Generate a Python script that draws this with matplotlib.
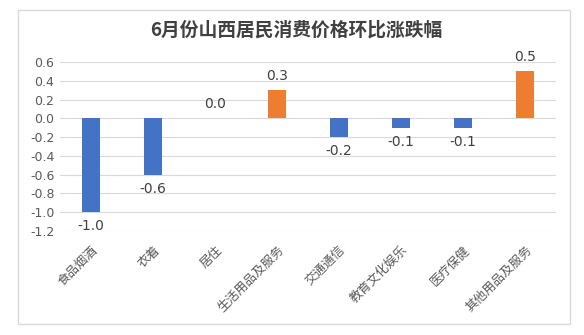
import matplotlib.pyplot as plt
from matplotlib.patches import Rectangle

plt.rcParams['font.family'] = ['Noto Sans CJK SC', 'DejaVu Sans']

categories = ['食品烟酒', '衣着', '居住', '生活用品及服务', '交通通信',
              '教育文化娱乐', '医疗保健', '其他用品及服务']
values = [-1.0, -0.6, 0.0, 0.3, -0.2, -0.1, -0.1, 0.5]
yticks = [0.6, 0.4, 0.2, 0.0, -0.2, -0.4, -0.6, -0.8, -1.0, -1.2]

blue = '#4472C4'
orange = '#ED7D31'

fig = plt.figure(figsize=(5.84, 3.35), dpi=100)
fig.patches.append(Rectangle((18 / 584, 1 - 324 / 335), 552 / 584, 314 / 335,
                             transform=fig.transFigure, fill=False,
                             edgecolor='#D9D9D9', linewidth=1))

ax = fig.add_axes([60 / 584, 1 - 231 / 335, 496 / 584, 169 / 335])
x = range(len(categories))
colors = [orange if v > 0 else blue for v in values]
ax.bar(x, values, width=0.29, color=colors, zorder=3)

for i, v in enumerate(values):
    if v >= 0:
        ax.annotate(f'{v:.1f}', (i, v), xytext=(0, 5), textcoords='offset points',
                    ha='center', va='bottom', fontsize=10, color='#404040',
                    family='DejaVu Sans')
    else:
        ax.annotate(f'{v:.1f}', (i, v), xytext=(0, -5), textcoords='offset points',
                    ha='center', va='top', fontsize=10, color='#404040',
                    family='DejaVu Sans')

ax.set_xlim(-0.5, len(categories) - 0.5)
ax.set_ylim(-1.2, 0.6)
ax.set_yticks(yticks)
ax.set_yticklabels([f'{t:.1f}' for t in yticks], fontsize=9, color='#595959',
                   family='DejaVu Sans')
ax.yaxis.grid(True, color='#D9D9D9', linewidth=0.8, zorder=0)
ax.tick_params(axis='both', length=0)
ax.tick_params(axis='y', pad=4)
for s in ax.spines.values():
    s.set_visible(False)

ax.set_xticks(list(x))
ax.set_xticklabels(categories, rotation=45, ha='right', va='top',
                   rotation_mode='anchor', fontsize=9, color='#595959')
ax.tick_params(axis='x', pad=9)

fig.text(296 / 584, 1 - 30 / 335, '6月份山西居民消费价格环比涨跌幅', ha='center', va='center',
         fontsize=13.5, fontweight='bold', color='#404040')

fig.savefig('out.png', dpi=100)
